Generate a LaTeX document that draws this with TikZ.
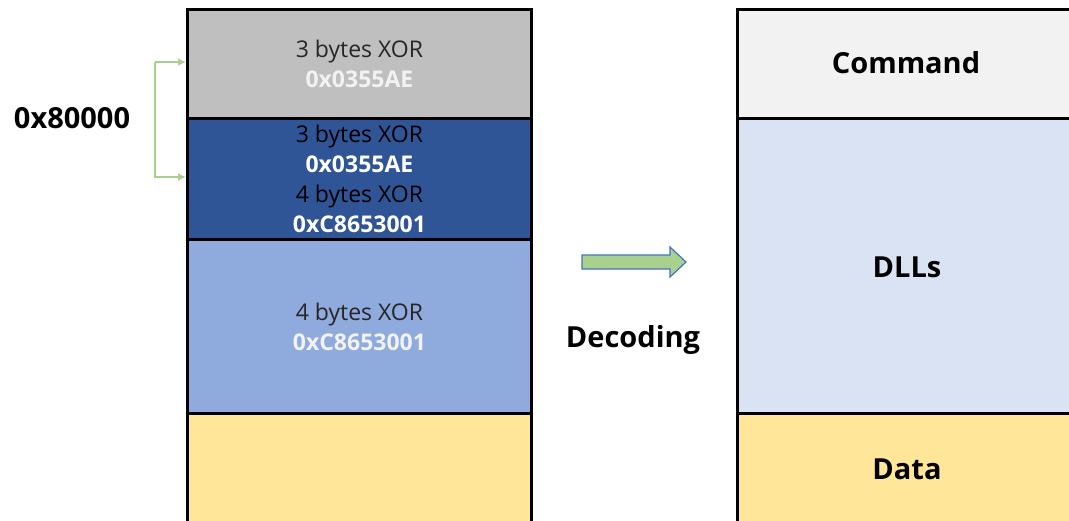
\documentclass[tikz,border=0pt]{standalone}
\usepackage{fontspec}
\setmainfont{Open Sans}
\usetikzlibrary{arrows.meta}
\definecolor{cgray}{HTML}{BFBFBF}
\definecolor{cdark}{HTML}{2F5597}
\definecolor{clight}{HTML}{8FAADC}
\definecolor{cyel}{HTML}{FFE699}
\definecolor{ccmd}{HTML}{F2F2F2}
\definecolor{cdll}{HTML}{DAE3F3}
\definecolor{cgreen}{HTML}{A9D18E}
\definecolor{cborder}{HTML}{4472C4}
\definecolor{ctxt}{HTML}{262626}
\tikzset{
  seg/.style={draw=black, line width=2.8pt, inner sep=0pt, anchor=north west, align=center},
  txt/.style={font=\fontsize{23}{30}\selectfont},
  big/.style={font=\fontsize{29}{30}\selectfont\bfseries},
}
\begin{document}
\begin{tikzpicture}[x=1pt,y=-1pt]
\useasboundingbox (0,0) rectangle (1069,520);
% left column
\node[seg, fill=cyel, minimum width=344pt, minimum height=120pt] (ly) at (186,412) {};
\node[seg, fill=clight, minimum width=344pt, minimum height=174pt, txt] (lb) at (186,238)
  {\textcolor{ctxt}{4 bytes XOR}\\ \textcolor{ccmd}{\bfseries 0xC8653001}};
\node[seg, fill=cdark, minimum width=344pt, minimum height=121pt, txt] (ld) at (186,117)
  {\textcolor{black}{3 bytes XOR}\\ \textcolor{white}{\bfseries 0x0355AE}\\ \textcolor{black}{4 bytes XOR}\\ \textcolor{white}{\bfseries 0xC8653001}};
\node[seg, fill=cgray, minimum width=344pt, minimum height=109pt, txt] (lg) at (186,8)
  {\textcolor{ctxt}{3 bytes XOR}\\ \textcolor{ccmd}{\bfseries 0x0355AE}};
% right column
\node[seg, fill=cyel, minimum width=345pt, minimum height=120pt] (ry) at (736,412) {};
\node[big] (rdata) at (907,469) {Data};
\node[seg, fill=cdll, minimum width=345pt, minimum height=295pt] (rd) at (736,117) {};
\node[big] (rdll) at (907,267) {DLLs};
\node[seg, fill=ccmd, minimum width=345pt, minimum height=109pt] (rc) at (736,8) {};
\node[big] (rcmd) at (906,63) {Command};
% labels
\node[big] (hex) at (72,118) {0x80000};
\node[big] (dec) at (633,340) {Decoding};
% bracket
\coordinate (b1) at (155,62);
\coordinate (b2) at (155,177);
\draw[cgreen, line width=1.6pt, -{Latex[length=8pt,width=8pt]}] (b1) -- (lg.west |- b1);
\draw[cgreen, line width=1.6pt, -{Latex[length=8pt,width=8pt]}] (b1) -- (b2) -- (ld.west |- b2);
% block arrow
\draw[cborder, fill=cgreen, line width=1.2pt] (582,255) -- (670,255) -- (670,247) -- (686,262) -- (670,277) -- (670,269) -- (582,269) -- cycle;
\end{tikzpicture}
\end{document}
